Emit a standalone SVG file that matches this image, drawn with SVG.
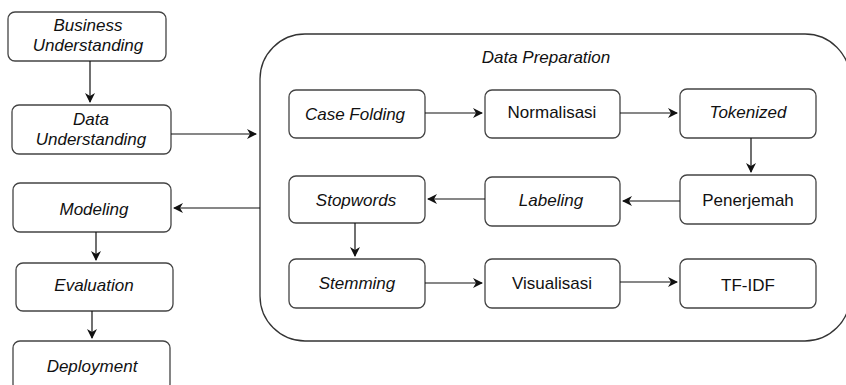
<svg xmlns="http://www.w3.org/2000/svg" width="846" height="385" viewBox="0 0 846 385">
<defs>
<style>
.box{fill:#fff;stroke:#444;stroke-width:1.3}
.cont{fill:#fff;stroke:#333;stroke-width:1.3}
.t{font-family:"Liberation Sans",Arial,sans-serif;font-size:17px;fill:#111;text-anchor:middle;dominant-baseline:central}
.i{font-style:italic}
.c{fill:none;stroke:#111;stroke-width:1.2;marker-end:url(#ah)}
</style>
<marker id="ah" viewBox="0 0 10 10" refX="9" refY="5" markerWidth="10" markerHeight="10" markerUnits="userSpaceOnUse" orient="auto">
<path d="M0,0 L10,5 L0,10 L3,5 Z" fill="#111"/>
</marker>
</defs>
<rect width="846" height="385" fill="#fff"/>
<g id="data-preparation">
<rect class="cont" x="260" y="34" width="590" height="307" rx="45" ry="45"/>
<text class="t i" x="546" y="57">Data Preparation</text>
</g>
<g id="business-understanding">
<rect class="box" x="8" y="12" width="158" height="49" rx="7"/>
<text class="t i" x="88" y="25">Business</text>
<text class="t i" x="88" y="45">Understanding</text>
</g>
<g id="data-understanding">
<rect class="box" x="12" y="105" width="159" height="49" rx="7"/>
<text class="t i" x="91" y="119">Data</text>
<text class="t i" x="91" y="139">Understanding</text>
</g>
<g id="modeling">
<rect class="box" x="13" y="183" width="158" height="49" rx="7"/>
<text class="t i" x="94" y="209">Modeling</text>
</g>
<g id="evaluation">
<rect class="box" x="16" y="263" width="157" height="48" rx="7"/>
<text class="t i" x="94" y="285">Evaluation</text>
</g>
<g id="deployment">
<rect class="box" x="13" y="341" width="157" height="50" rx="7"/>
<text class="t i" x="92" y="366">Deployment</text>
</g>
<g id="case-folding">
<rect class="box" x="289" y="90" width="136" height="48" rx="7"/>
<text class="t i" x="355" y="114">Case Folding</text>
</g>
<g id="normalisasi">
<rect class="box" x="485" y="90" width="135" height="48" rx="7"/>
<text class="t" x="552" y="112">Normalisasi</text>
</g>
<g id="tokenized">
<rect class="box" x="680" y="89" width="136" height="49" rx="7"/>
<text class="t i" x="748" y="112">Tokenized</text>
</g>
<g id="stopwords">
<rect class="box" x="289" y="176" width="136" height="47" rx="7"/>
<text class="t i" x="356" y="200">Stopwords</text>
</g>
<g id="labeling">
<rect class="box" x="485" y="177" width="135" height="49" rx="7"/>
<text class="t i" x="551" y="200">Labeling</text>
</g>
<g id="penerjemah">
<rect class="box" x="680" y="175" width="136" height="49" rx="7"/>
<text class="t" x="748" y="200">Penerjemah</text>
</g>
<g id="stemming">
<rect class="box" x="289" y="259" width="136" height="49" rx="7"/>
<text class="t i" x="357" y="283">Stemming</text>
</g>
<g id="visualisasi">
<rect class="box" x="485" y="259" width="135" height="49" rx="7"/>
<text class="t" x="552" y="283">Visualisasi</text>
</g>
<g id="tf-idf">
<rect class="box" x="680" y="259" width="136" height="49" rx="7"/>
<text class="t" x="748" y="285">TF-IDF</text>
</g>
<g id="connectors">
<path class="c" d="M90,61 V102"/>
<path class="c" d="M171,134 H256"/>
<path class="c" d="M260,208 H174"/>
<path class="c" d="M96,232 V260"/>
<path class="c" d="M92,311 V338"/>
<path class="c" d="M425,113 H482"/>
<path class="c" d="M620,113 H677"/>
<path class="c" d="M751,138 V172"/>
<path class="c" d="M680,201 H623"/>
<path class="c" d="M485,199 H428"/>
<path class="c" d="M355,223 V256"/>
<path class="c" d="M425,283 H482"/>
<path class="c" d="M620,282 H677"/>
</g>
</svg>
